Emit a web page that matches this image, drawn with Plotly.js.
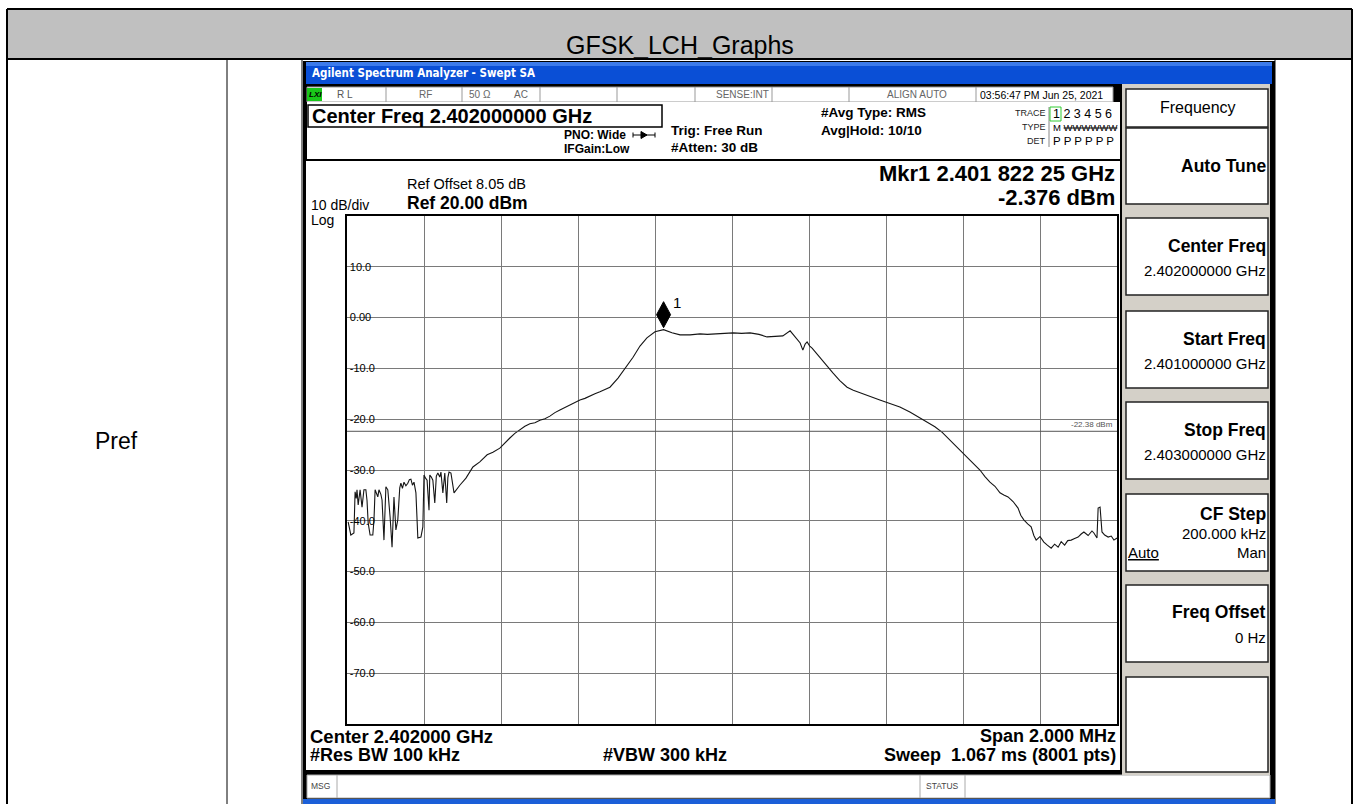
<!DOCTYPE html>
<html><head><meta charset="utf-8">
<script src="https://cdn.plot.ly/plotly-3.0.1.min.js"></script>
<style>html,body{margin:0;padding:0;background:#fff;overflow:hidden}#chart{width:1359px;height:804px}</style>
</head><body><div id="chart"></div>
<script>
// ---- data (frequency in MHz, level in dBm) ----
const freqMHz = [
2401.003,2401.010,2401.018,2401.021,2401.024,2401.026,2401.029,2401.032,2401.034,2401.039,2401.044,2401.049,2401.052,2401.055,2401.060,2401.067,2401.070,
2401.073,2401.077,2401.080,2401.083,2401.088,2401.091,2401.096,2401.101,2401.106,2401.112,2401.117,2401.122,2401.127,2401.132,2401.137,
2401.140,2401.144,2401.148,2401.153,2401.158,2401.162,2401.166,2401.170,2401.174,2401.179,2401.184,2401.192,2401.197,
2401.200,2401.204,2401.208,2401.213,2401.215,2401.219,2401.223,2401.228,2401.232,2401.236,2401.241,2401.244,2401.249,2401.254,2401.259,2401.262,2401.265,2401.270,2401.278,
2401.293,2401.309,2401.327,2401.345,2401.364,2401.379,2401.397,2401.410,2401.423,2401.436,2401.449,2401.462,2401.475,2401.488,2401.501,2401.514,2401.527,2401.540,2401.553,2401.566,2401.579,2401.592,2401.605,2401.618,2401.631,2401.644,2401.657,2401.670,2401.683,
2401.704,2401.722,2401.743,2401.761,2401.779,2401.800,2401.82225,2401.844,2401.865,2401.891,2401.917,2401.936,2401.956,2401.980,2402.003,2402.025,2402.047,2402.070,2402.091,2402.112,2402.132,2402.151,2402.158,2402.164,2402.171,2402.177,2402.184,2402.190,2402.195,2402.202,2402.208,2402.220,2402.229,2402.245,2402.262,2402.280,2402.299,2402.315,2402.332,2402.358,2402.384,2402.410,2402.436,2402.462,2402.488,2402.507,2402.527,2402.546,2402.566,2402.585,2402.605,2402.625,2402.644,2402.657,2402.670,2402.683,2402.696,2402.706,2402.717,2402.730,2402.743,2402.750,2402.758,2402.768,2402.777,2402.784,2402.790,2402.800,2402.810,2402.819,2402.829,2402.838,2402.847,2402.855,2402.864,2402.872,2402.881,2402.890,2402.899,2402.907,2402.914,2402.925,2402.935,2402.940,2402.946,2402.948,2402.951,2402.956,2402.961,2402.968,2402.977,2402.985,2402.992,2403.000
];
const levelDbm = [
-40.2,-42.8,-42.4,-34.3,-35.6,-33.9,-36.9,-34.0,-33.9,-37.3,-33.9,-33.9,-36.0,-40.4,-42.8,-42.8,-40.0,
-33.9,-34.6,-35.3,-33.9,-34.8,-35.9,-43.8,-33.3,-33.9,-39.3,-45.2,-35.3,-41.8,-39.8,-33.5,
-32.6,-33.6,-32.4,-33.1,-32.6,-31.9,-31.8,-33.0,-32.4,-34.5,-43.4,-43.2,-41.2,
-31.0,-31.6,-32.0,-37.9,-31.0,-31.4,-32.0,-36.5,-31.2,-30.6,-31.4,-30.4,-34.5,-30.6,-36.5,-31.5,-30.4,-30.6,-34.5,
-33.0,-31.6,-29.4,-28.4,-27.0,-26.5,-25.7,-24.6,-23.7,-22.8,-22.1,-21.4,-20.9,-20.7,-20.2,-19.9,-19.4,-18.7,-18.2,-17.7,-17.2,-16.8,-16.2,-15.9,-15.4,-15.0,-14.6,-14.1,-13.7,
-11.9,-10.1,-7.8,-5.6,-4.0,-2.8,-2.376,-3.0,-3.4,-3.4,-3.2,-3.3,-3.2,-3.1,-3.0,-3.1,-3.0,-3.3,-3.8,-3.7,-3.6,-2.6,-3.3,-3.8,-4.4,-5.0,-6.4,-5.2,-4.8,-5.6,-6.0,-7.1,-8.0,-9.4,-10.9,-12.4,-13.7,-14.3,-14.8,-15.5,-16.2,-16.9,-17.6,-18.6,-19.8,-20.6,-21.5,-22.6,-24.1,-25.6,-27.0,-28.6,-30.0,-31.3,-32.4,-33.2,-34.5,-34.9,-35.3,-36.2,-37.5,-38.9,-39.8,-40.6,-41.2,-42.9,-43.8,-43.1,-44.2,-44.8,-45.4,-44.6,-45.2,-44.1,-44.8,-43.9,-43.8,-43.5,-43.2,-42.6,-42.2,-42.9,-42.0,-42.4,-43.0,-43.4,-37.5,-37.3,-42.2,-42.8,-43.2,-43.0,-43.8,-43.4
];
const yTickVals = [10, 0, -10, -20, -30, -40, -50, -60, -70];
const yTickText = ['10.0', '0.00', '-10.0', '-20.0', '-30.0', '-40.0', '-50.0', '-60.0', '-70.0'];
const markerFreqMHz = 2401.82225;
const markerLevelDbm = -2.376;
const displayLineDbm = -22.38;
const softkeys = [
  {title: 'Center Freq', value: '2.402000000 GHz'},
  {title: 'Start Freq', value: '2.401000000 GHz'},
  {title: 'Stop Freq', value: '2.403000000 GHz'}
];

// ---- page geometry (pixels) ----
const L = 347, R = 1117, T = 216, B = 724;
const px = X => (X - L) / (R - L);
const py = Y => (B - Y) / (B - T);
const shapes = [], ann = [];
const FONT = 'Arial, "Liberation Sans", sans-serif';
function rect(x0, y0, x1, y1, fill, lc, lw, layer) {
  shapes.push({type: 'rect', xref: 'paper', yref: 'paper', x0: px(x0), x1: px(x1), y0: py(y1), y1: py(y0),
    fillcolor: fill || 'rgba(0,0,0,0)', line: {color: lc || 'rgba(0,0,0,0)', width: lw || 0}, layer: layer || 'below'});
}
function line(x0, y0, x1, y1, c, w, layer) {
  shapes.push({type: 'line', xref: 'paper', yref: 'paper', x0: px(x0), x1: px(x1), y0: py(y0), y1: py(y1),
    line: {color: c, width: w}, layer: layer || 'below'});
}
function txt(x, y, t, size, anchor, color, family) {
  ann.push({xref: 'paper', yref: 'paper', x: px(x), y: py(y), text: t, showarrow: false,
    xanchor: anchor || 'left', yanchor: 'middle', borderpad: 0,
    font: {family: family || FONT, size: size, color: color || '#000'}});
}

// outer table
rect(8, 10, 1351, 58, '#c0c0c0');
line(7, 9, 1352, 9, '#000', 2);
line(7, 59, 1352, 59, '#000', 2);
line(7, 9, 7, 804, '#000', 2);
line(1352, 9, 1352, 804, '#000', 2);
line(227, 59, 227, 804, '#000', 1);
line(302, 59, 302, 804, '#000', 1);
line(1275, 59, 1275, 804, '#000', 1);
txt(680, 45, 'GFSK_LCH_Graphs', 25, 'center');
txt(116, 441, 'Pref', 23, 'center');

// screenshot chrome
rect(303, 61, 1275, 804, '#000');
rect(306, 62, 1272, 84, '#0a4fd6');
rect(306, 62, 1272, 66, '#3d7bea');
txt(311, 73, '<b>Agilent Spectrum Analyzer - Swept SA</b>', 11.5, 'left', '#fff', '"Liberation Sans Narrow", "DejaVu Sans Condensed", Arial');
rect(307, 87, 1113, 102, '#fff', '#999', 1);
rect(307, 102, 1120, 160, '#fff');
[386, 462, 540, 617, 695, 772, 849, 976].forEach(x => line(x, 87, x, 102, '#999', 1));
rect(307, 88, 322, 101, '#19c819');
txt(308, 95, '<b><i>LXI</i></b>', 8, 'left', '#000');
txt(336, 95, 'R L', 10, 'left', '#555');
txt(418, 95, 'RF', 10, 'left', '#666');
txt(468, 95, '50 Ω', 10, 'left', '#666');
txt(513, 95, 'AC', 10, 'left', '#666');
txt(770, 95, 'SENSE:INT', 10, 'right', '#666');
txt(948, 95, 'ALIGN AUTO', 10, 'right', '#666');
txt(979, 95, '03:56:47 PM Jun 25, 2021', 10.5, 'left', '#000');
rect(308, 105, 662, 127, '#fff', '#000', 1.5);
txt(311, 116, '<b>Center Freq 2.402000000 GHz</b>', 20);
txt(563, 135, '<b>PNO: Wide</b>', 12);
// PNO arrow glyph
line(633, 135, 655, 135, '#000', 1, 'above');
shapes.push({type: 'path', xref: 'paper', yref: 'paper', layer: 'above', fillcolor: '#000', line: {color: '#000', width: 1},
  path: `M${px(641)},${py(131.5)} L${px(647)},${py(135)} L${px(641)},${py(138.5)} Z`});
line(633, 132.5, 633, 137.5, '#000', 1, 'above');
line(655, 132.5, 655, 137.5, '#000', 1, 'above');
txt(563, 149, '<b>IFGain:Low</b>', 12);
txt(670, 130, '<b>Trig: Free Run</b>', 13.5);
txt(670, 147, '<b>#Atten: 30 dB</b>', 13.5);
txt(820, 113, '<b>#Avg Type: RMS</b>', 13.5);
txt(820, 130, '<b>Avg|Hold: 10/10</b>', 13.5);
txt(1047, 113, 'TRACE', 9, 'right', '#222');
txt(1047, 127, 'TYPE', 9, 'right', '#222');
txt(1047, 141, 'DET', 9, 'right', '#222');
line(1049, 107, 1049, 147, '#888', 1);
rect(1050, 107, 1061, 121, '#fff', '#3c3', 1);
txt(1052, 114, '1 2 3 4 5 6', 12.5, 'left', '#000');
txt(1052, 127, 'M <s>WWWWWW</s>', 9.5, 'left', '#000');
txt(1052, 141, 'P P P P P P', 11.5, 'left', '#000');

// graph frame
rect(305, 160, 1121, 771, '#fff', '#000', 2);
txt(406, 184, 'Ref Offset 8.05 dB', 14.5);
txt(406, 203, '<b>Ref 20.00 dBm</b>', 17.5);
txt(310, 205, '10 dB/div', 14);
txt(310, 220, 'Log', 14);
txt(1116, 174, '<b>Mkr1 2.401 822 25 GHz</b>', 22, 'right');
txt(1116, 197, '<b>-2.376 dBm</b>', 22, 'right');
txt(309, 736, '<b>Center 2.402000 GHz</b>', 18.5);
txt(309, 755, '<b>#Res BW 100 kHz</b>', 18);
txt(665, 755, '<b>#VBW 300 kHz</b>', 18, 'center');
txt(1117, 736, '<b>Span 2.000 MHz</b>', 18, 'right');
txt(1117, 755, '<b>Sweep  1.067 ms (8001 pts)</b>', 18, 'right');

// message bar
rect(307, 775, 1270, 798, '#fff', '#aaa', 1);
line(337, 775, 337, 798, '#aaa', 1);
line(920, 775, 920, 798, '#aaa', 1);
line(965, 775, 965, 798, '#aaa', 1);
txt(310, 786, 'MSG', 8.5, 'left', '#444');
txt(942, 786, 'STATUS', 8.5, 'center', '#444');
rect(303, 799, 1275, 804, '#1b5fd8');

// softkey panel
rect(1122, 84, 1270, 775, '#d4d0c8');
rect(1126, 89, 1268, 127, '#fff', '#222', 1.5);
txt(1198, 108, 'Frequency', 16, 'center');
rect(1126, 128, 1268, 204, '#fff', '#222', 1.5);
txt(1267, 166, '<b>Auto Tune</b>', 17.5, 'right');
const boxTops = [218, 311, 402];
softkeys.forEach((k, i) => {
  const t = boxTops[i];
  rect(1126, t, 1268, t + 77, '#fff', '#222', 1.5);
  txt(1267, t + 28, '<b>' + k.title + '</b>', 17.5, 'right');
  txt(1267, t + 52, k.value, 15, 'right');
});
rect(1126, 494, 1268, 571, '#fff', '#222', 1.5);
txt(1267, 514, '<b>CF Step</b>', 17.5, 'right');
txt(1267, 533, '200.000 kHz', 15, 'right');
txt(1127, 552, '<u>Auto</u>', 15, 'left');
txt(1267, 552, 'Man', 15, 'right');
rect(1126, 585, 1268, 662, '#fff', '#222', 1.5);
txt(1267, 612, '<b>Freq Offset</b>', 17.5, 'right');
txt(1267, 637, '0 Hz', 15, 'right');
rect(1126, 677, 1268, 772, '#fff', '#222', 1.5);

// display line and marker
shapes.push({type: 'line', xref: 'paper', yref: 'y', x0: 0, x1: 1, y0: displayLineDbm, y1: displayLineDbm,
  line: {color: '#555', width: 1}, layer: 'above'});
ann.push({xref: 'paper', yref: 'y', x: 0.997, y: displayLineDbm, yshift: 7, text: displayLineDbm.toFixed(2) + ' dBm',
  showarrow: false, xanchor: 'right', yanchor: 'middle', font: {family: FONT, size: 8, color: '#555'}});
shapes.push({type: 'path', xref: 'x', yref: 'y', xsizemode: 'pixel', ysizemode: 'pixel',
  xanchor: markerFreqMHz, yanchor: markerLevelDbm, path: 'M0,2 L-7,15 L0,28 L7,15 Z',
  fillcolor: '#000', line: {color: '#000', width: 1}, layer: 'above'});
ann.push({xref: 'x', yref: 'y', x: markerFreqMHz, y: markerLevelDbm, xshift: 13, yshift: 27, text: '1',
  showarrow: false, xanchor: 'center', yanchor: 'middle', font: {family: FONT, size: 15, color: '#000'}});

const trace = {x: freqMHz, y: levelDbm, type: 'scatter', mode: 'lines',
  line: {color: '#151515', width: 1.1}, hoverinfo: 'skip'};

const layout = {
  width: 1359, height: 804,
  margin: {l: L, r: 1359 - R, t: T, b: 804 - B, pad: 0},
  paper_bgcolor: '#fff', plot_bgcolor: 'rgba(0,0,0,0)',
  showlegend: false,
  xaxis: {range: [2401, 2403], tick0: 2401, dtick: 0.2, showticklabels: false, ticks: '',
    showgrid: true, gridcolor: '#7a7a7a', gridwidth: 1, zeroline: false,
    showline: true, mirror: true, linecolor: '#000', linewidth: 2},
  yaxis: {range: [-80, 20], tickmode: 'array', tickvals: yTickVals, ticktext: yTickText,
    ticklabelposition: 'inside', ticks: '', ticklabelstandoff: 2, tickfont: {family: FONT, size: 11, color: '#000'},
    showgrid: true, gridcolor: '#7a7a7a', gridwidth: 1, zeroline: false,
    showline: true, mirror: true, linecolor: '#000', linewidth: 2},
  shapes: shapes, annotations: ann
};
Plotly.newPlot('chart', [trace], layout, {staticPlot: true, displayModeBar: false});
</script></body></html>
